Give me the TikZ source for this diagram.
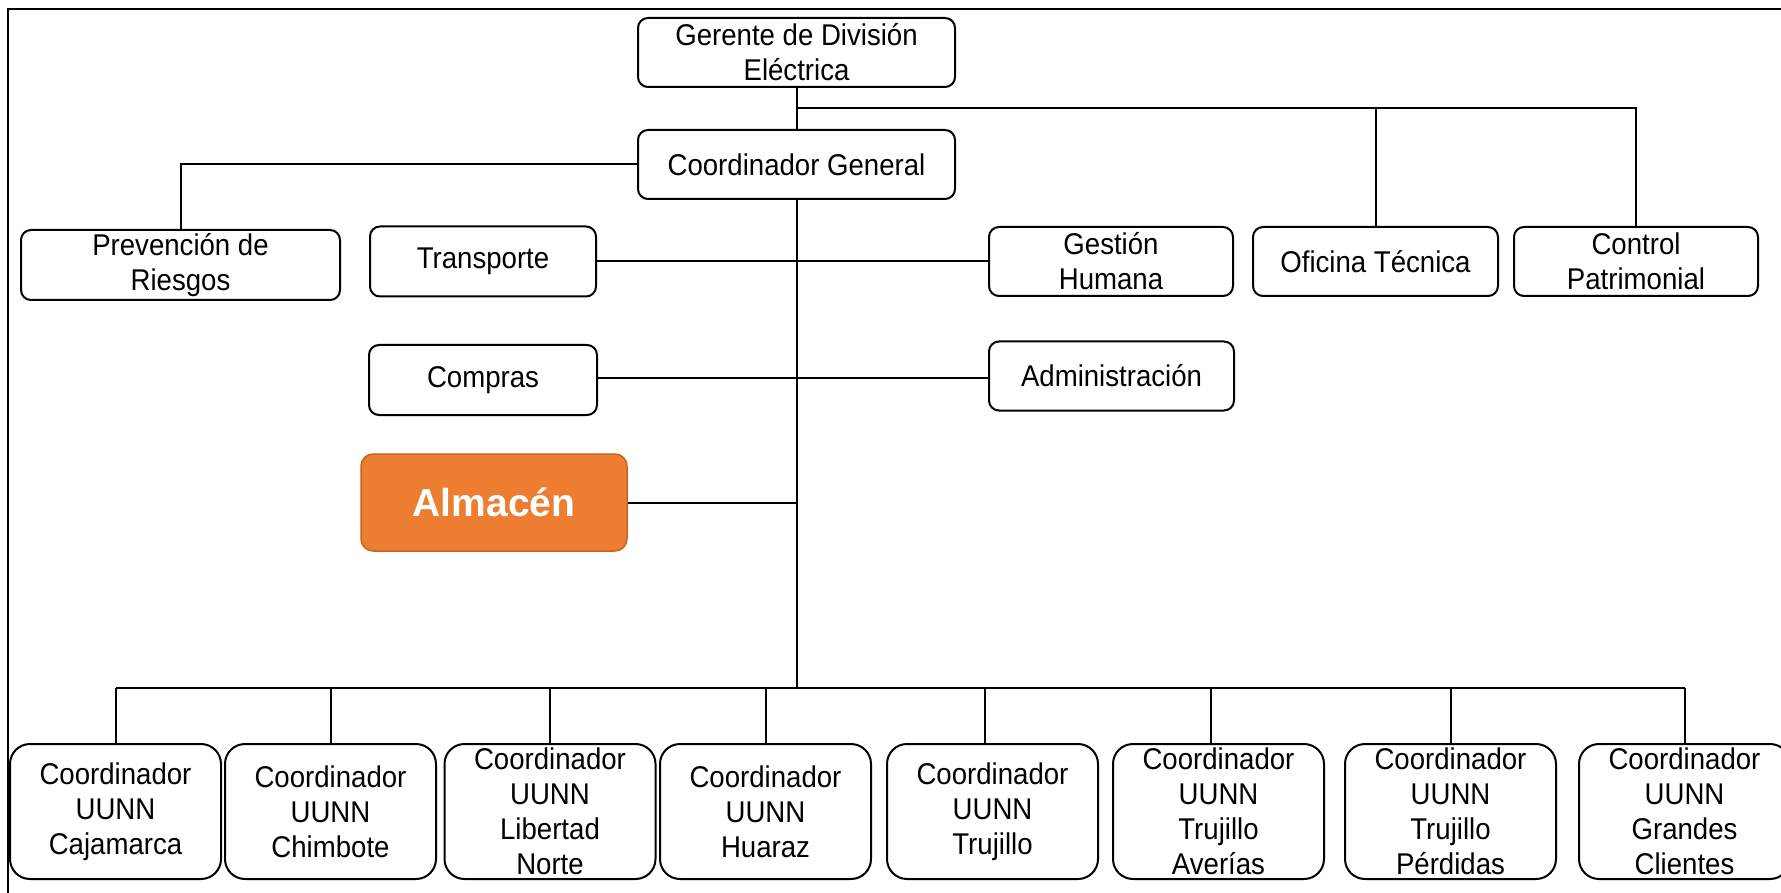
\documentclass[tikz,border=0pt]{standalone}
\usepackage{fontspec}
\setmainfont{Liberation Sans}[FakeStretch=0.92]
\newfontfamily\boldlabel{Liberation Sans}[BoldFont={Liberation Sans Bold}]
\usetikzlibrary{calc}
\definecolor{almorange}{HTML}{ED7D31}
\definecolor{almedge}{HTML}{C8641E}
\begin{document}
\begin{tikzpicture}[x=1pt,y=-1pt,
  unit/.style={draw=black,line width=2pt,rounded corners=10pt,fill=white,
    align=center,inner sep=0pt,font=\fontsize{30}{35}\selectfont},
  topbox/.style={unit,minimum width=#1,minimum height=69pt},
  basebox/.style={unit,rounded corners=20pt,minimum width=211pt,minimum height=135pt},
  keybox/.style={draw=almedge,line width=1.5pt,rounded corners=12pt,fill=almorange,
    text=white,inner sep=0pt,minimum width=266pt,minimum height=97pt,
    font=\boldlabel\bfseries\fontsize{39}{42}\selectfont},
  link/.style={line width=2pt,draw=black}]
\useasboundingbox (0,0) rectangle (1781,893);
\clip (0,0) rectangle (1781,893);
\fill[white] (0,0) rectangle (1781,893);
% outer frame
\draw[line width=2pt] (8,905) -- (8,9) -- (1795,9);

% upper levels
\node[topbox=317pt] (ger) at (796.5,52.5) {Gerente de División\\Eléctrica};
\node[topbox=317pt] (cg) at (796.5,164.5) {Coordinador General};
\node[topbox=319pt,minimum height=70pt] (prev) at (180.5,265) {Prevención de\\Riesgos};
\node[topbox=226pt,minimum height=70pt] (trans) at (483,261.5) {Transporte};
\node[topbox=244pt] (gest) at (1111,261.5) {Gestión\\Humana};
\node[topbox=245pt] (ofi) at (1375.5,261.5) {Oficina Técnica};
\node[topbox=244pt] (ctrl) at (1636,261.5) {Control\\Patrimonial};
\node[topbox=228pt,minimum height=70pt] (comp) at (483,380) {Compras};
\node[topbox=245pt] (adm) at (1111.5,376) {Administración};
\node[keybox] (alm) at (494,502.5) {Almacén};

% regional coordinators
\node[basebox] (b1) at (115.5,811.5) {Coordinador\\UUNN\\Cajamarca};
\node[basebox] (b2) at (330.5,811.5) {Coordinador\\UUNN\\Chimbote};
\node[basebox] (b3) at (550,811.5) {Coordinador\\UUNN\\Libertad\\Norte};
\node[basebox] (b4) at (765.5,811.5) {Coordinador\\UUNN\\Huaraz};
\node[basebox] (b5) at (992.5,811.5) {Coordinador\\UUNN\\Trujillo};
\node[basebox] (b6) at (1218.5,811.5) {Coordinador\\UUNN\\Trujillo\\Averías};
\node[basebox] (b7) at (1450.5,811.5) {Coordinador\\UUNN\\Trujillo\\Pérdidas};
\node[basebox] (b8) at (1684.5,811.5) {Coordinador\\UUNN\\Grandes\\Clientes};

% junctions
\coordinate (staff) at ($(ger.south)!0.5!(cg.north)$);
\coordinate (bus) at (cg.south |- 0,688);

% connectors
\draw[link] (ger.south) -- (cg.north);
\draw[link] (staff) -- (staff -| ctrl.north) -- (ctrl.north);
\draw[link] (staff -| ofi.north) -- (ofi.north);
\draw[link] (cg.west) -| (prev.north);
\draw[link] (cg.south) -- (bus);
\draw[link] (trans.east) -- (gest.west);
\draw[link] ([yshift=2pt]comp.east) -- ([yshift=2pt]comp.east -| adm.west);
\draw[link] (alm.east) -- (alm.east -| cg.south);
\draw[link] (bus -| b1.north) -- (bus -| b8.north);
\foreach \b in {b1,b2,b3,b4,b7,b8}
  \draw[link] (bus -| \b.north) -- (\b.north);
\draw[link] ([xshift=-8pt]bus -| b5.north) -- ([xshift=-8pt]b5.north);
\draw[link] ([xshift=-8pt]bus -| b6.north) -- ([xshift=-8pt]b6.north);
\end{tikzpicture}
\end{document}
